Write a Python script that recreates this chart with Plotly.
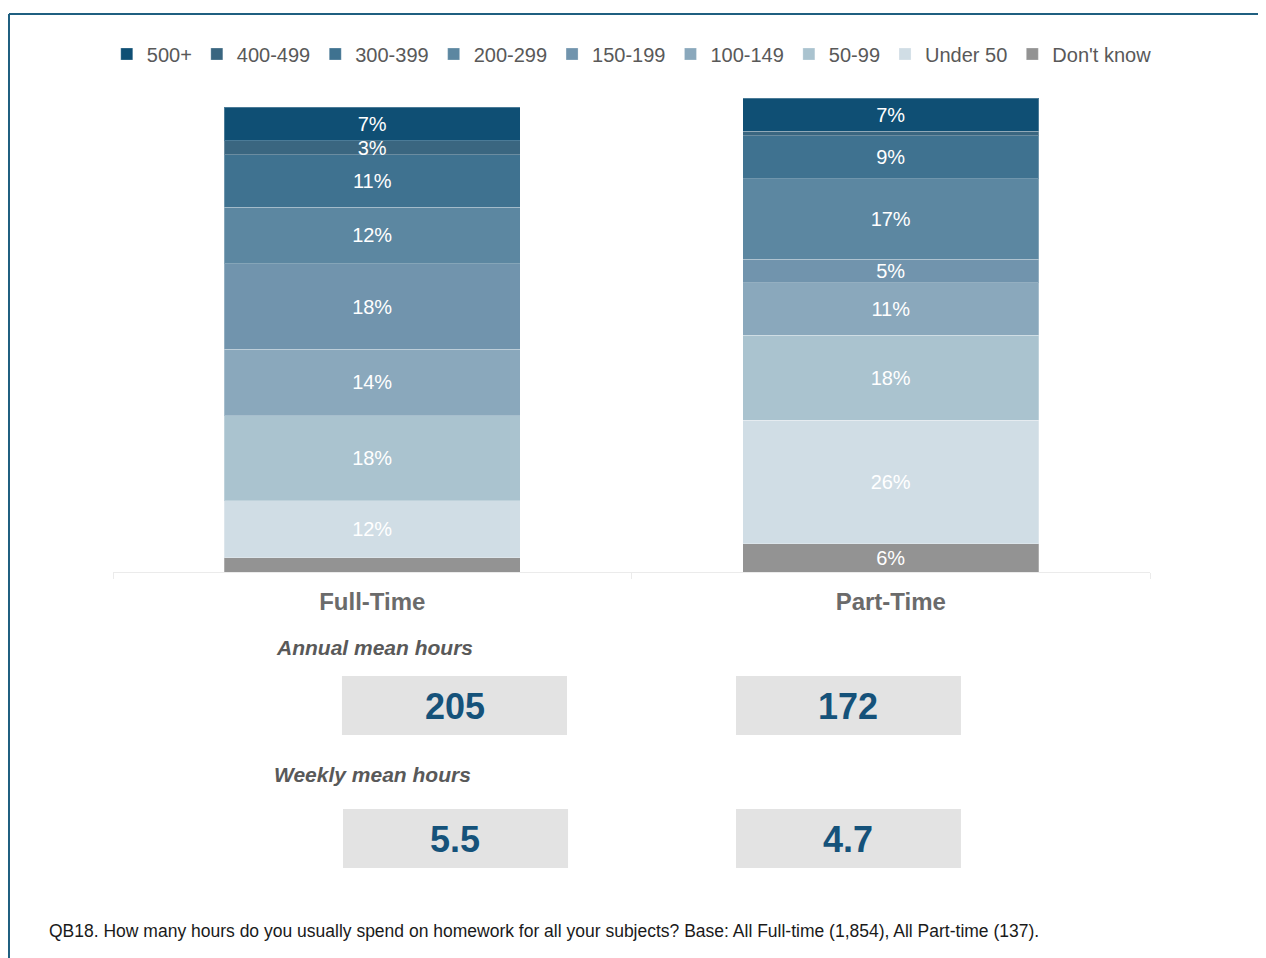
import plotly.graph_objects as go

groups = ["Full-Time", "Part-Time"]
bands = ["500+", "400-499", "300-399", "200-299", "150-199", "100-149", "50-99", "Under 50", "Don't know"]
full_time = [7, 3, 11, 12, 18, 14, 18, 12, 3]
part_time = [7, 1, 9, 17, 5, 11, 18, 26, 6]
annual_mean = [205, 172]
weekly_mean = [5.5, 4.7]

colors = ["#0f4f74", "#3a6680", "#3f7290", "#5c87a1", "#7194ad", "#8aa8bc", "#aac3cf", "#d0dde5", "#939393"]

FONT = "Liberation Sans, Arial, sans-serif"

fig = go.Figure()

# stack bottom-up, so add the last band first
for i in reversed(range(len(bands))):
    vals = [full_time[i], part_time[i]]
    labels = [f"{v}%" if v >= 3 and not (bands[i] == "Don't know" and g == "Full-Time") else ""
              for v, g in zip(vals, groups)]
    fig.add_trace(go.Bar(
        x=groups, y=vals, name=bands[i],
        marker=dict(color=colors[i], line=dict(color="rgba(255,255,255,0.25)", width=1)),
        text=labels, textposition="inside", insidetextanchor="middle", textangle=0,
        textfont=dict(color="white", size=20, family=FONT),
        width=0.57,
    ))

# page body has an 8px margin, so the figure is 8px smaller than the window
fig.update_layout(
    width=1258, height=950,
    barmode="stack",
    plot_bgcolor="white", paper_bgcolor="white",
    margin=dict(l=105, r=116, t=90, b=386, autoexpand=False),
    font=dict(family=FONT, color="#595959"),
    uniformtext=dict(minsize=20, mode="show"),
    # x just left of the plot area lets the one-row legend use the left margin too
    legend=dict(orientation="h", traceorder="reversed", x=-0.006, xanchor="left",
                y=1.0928, yanchor="middle", font=dict(size=20, color="#595959"),
                itemwidth=30, tracegroupgap=0),
    showlegend=True,
)
fig.update_xaxes(showline=True, linecolor="#ebebeb", linewidth=1,
                 ticks="outside", tickson="boundaries", tickcolor="#ebebeb", ticklen=6,
                 ticklabelstandoff=8,
                 tickfont=dict(size=24, color="#6b6b6b", family="Liberation Sans, Arial", weight="bold"),
                 range=[-0.5, 1.5], showgrid=False)
fig.update_yaxes(range=[0, 100], visible=False, showgrid=False)

# frame lines
fig.add_shape(type="line", xref="paper", yref="paper", x0=-0.1003, x1=1.12, y0=1.1772, y1=1.1772,
              line=dict(color="#1f5f80", width=2))
fig.add_shape(type="line", xref="paper", yref="paper", x0=-0.1003, x1=-0.1003, y0=1.1772, y1=-0.85,
              line=dict(color="#1f5f80", width=2))

# summary boxes
annual_box_x = [(0.2208, 0.4378), (0.6008, 0.8177)]
weekly_box_x = [(0.2218, 0.4388), (0.6008, 0.8177)]
num_x = [0.3298, 0.7088]
for j in range(2):
    fig.add_shape(type="rect", xref="paper", yref="paper", x0=annual_box_x[j][0], x1=annual_box_x[j][1],
                  y0=-0.3439, y1=-0.2194, fillcolor="#e3e3e3", line_width=0, layer="below")
    fig.add_shape(type="rect", xref="paper", yref="paper", x0=weekly_box_x[j][0], x1=weekly_box_x[j][1],
                  y0=-0.6245, y1=-0.5, fillcolor="#e3e3e3", line_width=0, layer="below")
    fig.add_annotation(xref="paper", yref="paper", x=num_x[j], y=-0.2848, xanchor="center", yanchor="middle",
                       showarrow=False, text=f"<b>{annual_mean[j]}</b>",
                       font=dict(size=36, color="#15527a", family=FONT))
    fig.add_annotation(xref="paper", yref="paper", x=num_x[j], y=-0.5633, xanchor="center", yanchor="middle",
                       showarrow=False, text=f"<b>{weekly_mean[j]}</b>",
                       font=dict(size=36, color="#15527a", family=FONT))

fig.add_annotation(xref="paper", yref="paper", x=0.2517, y=-0.1603, xanchor="center", yanchor="middle",
                   showarrow=False, text="<b><i>Annual mean hours</i></b>",
                   font=dict(size=21, color="#595959", family=FONT))
fig.add_annotation(xref="paper", yref="paper", x=0.2507, y=-0.4262, xanchor="center", yanchor="middle",
                   showarrow=False, text="<b><i>Weekly mean hours</i></b>",
                   font=dict(size=21, color="#595959", family=FONT))

fig.add_annotation(xref="paper", yref="paper", x=-0.0636, y=-0.7574, xanchor="left", yanchor="middle",
                   showarrow=False,
                   text="QB18. How many hours do you usually spend on homework for all your subjects? Base: All Full-time (1,854), All Part-time (137).",
                   font=dict(size=17.5, color="#1a1a1a", family=FONT))

fig.write_html("out.html")
